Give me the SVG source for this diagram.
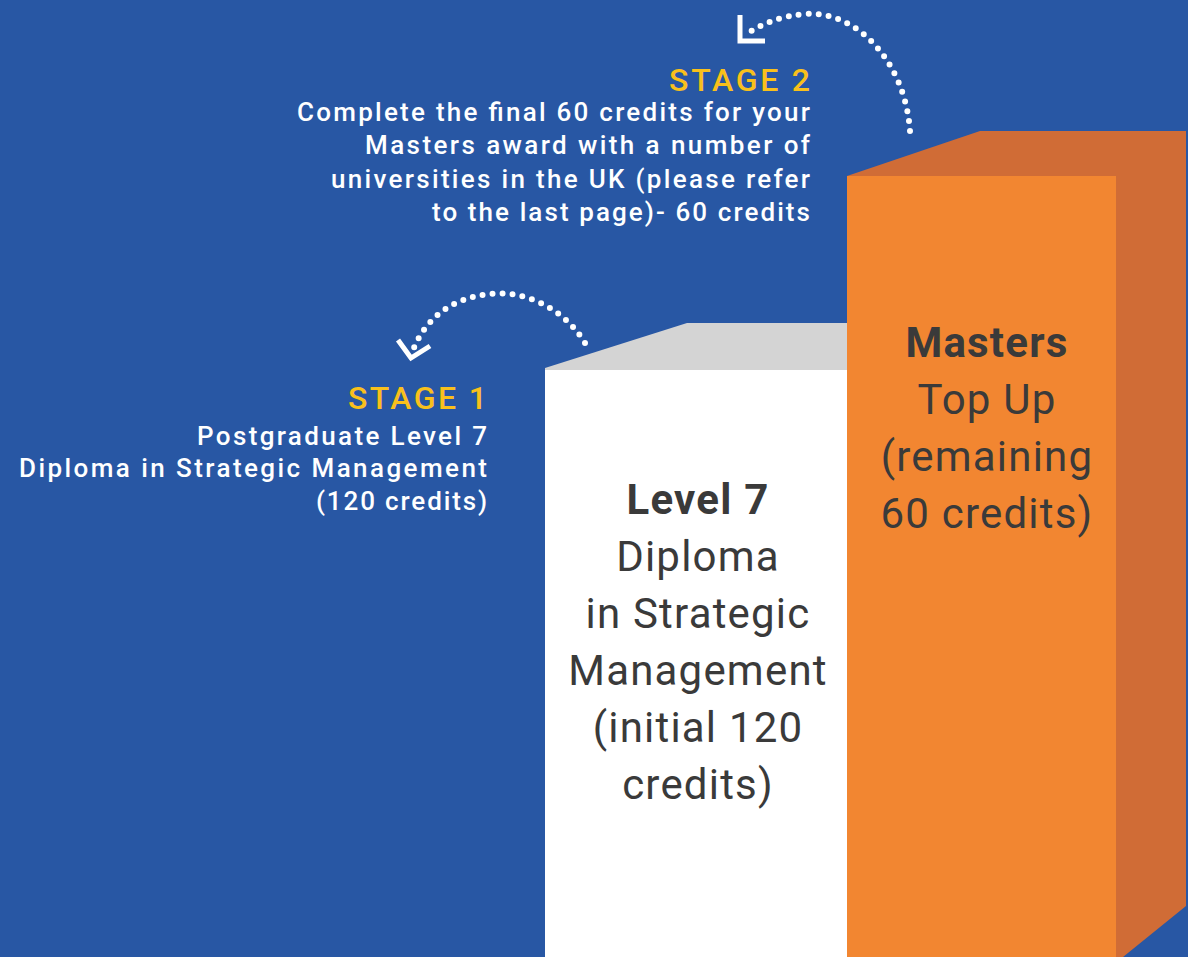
<svg xmlns="http://www.w3.org/2000/svg" width="1188" height="957" viewBox="0 0 1188 957">
<style>
.stage{font-family:Roboto,"Liberation Sans",sans-serif;font-size:32px;font-weight:500;fill:#f9c01c;text-anchor:end;}
.desc{font-family:Roboto,"Liberation Sans",sans-serif;font-size:26px;font-weight:500;fill:#ffffff;text-anchor:end;}
.box{font-family:Roboto,"Liberation Sans",sans-serif;font-size:42px;fill:#3a3a3a;text-anchor:middle;letter-spacing:1.2px;}
.b{font-weight:bold;}
.dots{fill:none;stroke:#ffffff;stroke-width:6;stroke-linecap:round;stroke-dasharray:0 10;}
.head{fill:none;stroke:#ffffff;stroke-width:5;stroke-linecap:butt;}
</style>
<rect width="1188" height="957" fill="#2857a4"/>
<g id="masters">
<polygon points="847,176 980,131 1186,131 1186,906 1123,957 1116,957 1116,176" fill="#d06c36"/>
<rect x="847" y="176" width="269" height="781" fill="#f28631"/>
<text class="box b" x="987" y="357">Masters</text>
<text class="box" x="987" y="414">Top Up</text>
<text class="box" x="987" y="471">(remaining</text>
<text class="box" x="987" y="528">60 credits)</text>
</g>
<g id="level7">
<polygon points="545,368 687,323 847,323 847,370 545,370" fill="#d4d4d4"/>
<rect x="545" y="370" width="302" height="587" fill="#ffffff"/>
<text class="box b" x="698" y="514">Level 7</text>
<text class="box" x="698" y="571">Diploma</text>
<text class="box" x="698" y="628">in Strategic</text>
<text class="box" x="698" y="685">Management</text>
<text class="box" x="698" y="742">(initial 120</text>
<text class="box" x="698" y="799">credits)</text>
</g>
<g id="stage2">
<text class="stage" x="810" y="91" textLength="141" lengthAdjust="spacing">STAGE 2</text>
<text class="desc" x="810" y="121" textLength="513" lengthAdjust="spacing">Complete the final 60 credits for your</text>
<text class="desc" x="810" y="154" textLength="445" lengthAdjust="spacing">Masters award with a number of</text>
<text class="desc" x="810" y="188" textLength="479" lengthAdjust="spacing">universities in the UK (please refer</text>
<text class="desc" x="810" y="221" textLength="378" lengthAdjust="spacing">to the last page)- 60 credits</text>
</g>
<g id="stage1">
<text class="stage" x="487" y="409" textLength="139" lengthAdjust="spacing">STAGE 1</text>
<text class="desc" x="487" y="445" textLength="290" lengthAdjust="spacing">Postgraduate Level 7</text>
<text class="desc" x="487" y="477" textLength="468" lengthAdjust="spacing">Diploma in Strategic Management</text>
<text class="desc" x="487" y="510" textLength="171" lengthAdjust="spacing">(120 credits)</text>
</g>
<g id="connectors">
<path class="dots" d="M 910 131 C 905 60, 855 10, 805 14 C 780 16, 762 24, 748 33"/>
<polyline class="head" points="740,15 740,41 765,41"/>
<path class="dots" d="M 585 343 C 562 305, 520 290, 490 294 C 450 298, 425 320, 413 350"/>
<polyline class="head" points="398,340 411,358 430,346"/>
</g>
</svg>
